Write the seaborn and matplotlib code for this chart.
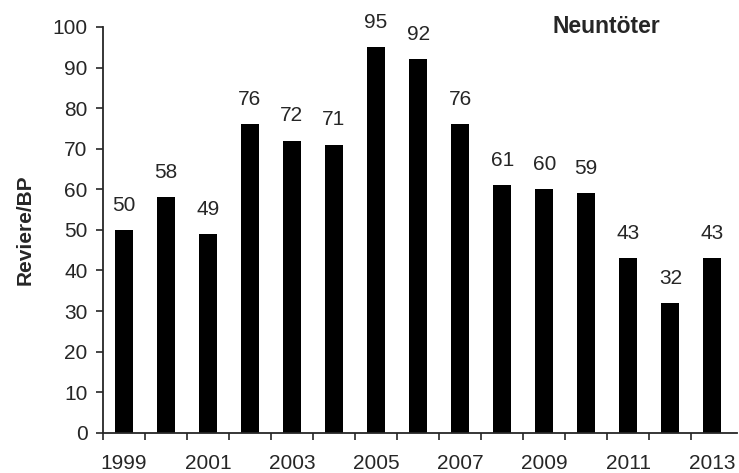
import matplotlib
matplotlib.use("Agg")
import matplotlib.pyplot as plt
import seaborn as sns
import numpy as np

# Brutreviere Neuntöter pro Jahr
years = [1999, 2000, 2001, 2002, 2003, 2004, 2005, 2006,
         2007, 2008, 2009, 2010, 2011, 2012, 2013]
pairs = [50, 58, 49, 76, 72, 71, 95, 92, 76, 61, 60, 59, 43, 32, 43]
y_ticks = list(range(0, 101, 10))

sns.set_style("ticks")
plt.rcParams['font.family'] = ['Liberation Sans', 'DejaVu Sans']

fig = plt.figure(figsize=(7.39, 4.73), dpi=100)
ax = fig.add_axes([0.139, 0.085, 0.858, 0.858])

sns.barplot(x=[str(y) for y in years], y=pairs, color="black",
            saturation=1, width=0.43, ax=ax)
for p in ax.patches:
    p.set_edgecolor("none")

ax.bar_label(ax.containers[0], padding=11, fontsize=15)

n = len(years)
ax.set_xlim(-0.5, n - 0.42)
ax.set_ylim(0, 100)
ax.set_yticks(y_ticks)
ax.tick_params(axis="y", labelsize=15, length=5, width=1.2, direction="out", pad=6)

# Striche zwischen den Balken, Beschriftung jedes zweite Jahr
ax.set_xticks(np.arange(-0.5, n - 0.5, 1.0))
ax.set_xticklabels([])
ax.tick_params(axis="x", which="major", length=5, width=1.2, direction="out")
ax.set_xticks(np.arange(0, n, 2), minor=True)
ax.set_xticklabels([str(y) for y in years[::2]], minor=True)
ax.tick_params(axis="x", which="minor", length=0, labelsize=15, pad=15)

for s in ["left", "bottom"]:
    ax.spines[s].set_linewidth(1.3)
sns.despine(ax=ax)

ax.set_xlabel("")
ax.set_ylabel("Reviere/BP", fontsize=15, fontweight="bold")
ax.yaxis.set_label_coords(-0.107, 0.5)
ax.text(0.795, 1.0, "Neuntöter", transform=ax.transAxes, fontsize=16.5,
        fontweight="bold", ha="center", va="center")

fig.savefig("out.png", dpi=100)
